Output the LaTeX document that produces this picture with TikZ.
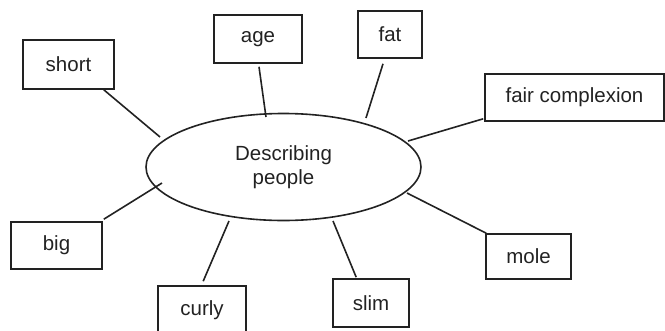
\documentclass[tikz,border=0pt]{standalone}
\usepackage{fontspec}
\setmainfont{Liberation Sans}
\usetikzlibrary{shapes.geometric,calc}
\definecolor{ink}{HTML}{222222}
\begin{document}
\begin{tikzpicture}[x=1pt,y=-1pt,
  every node/.style={font=\fontsize{20.5}{23.5}\selectfont, text=ink},
  wordbox/.style={draw=ink, line width=1.6pt, rectangle, inner sep=0pt},
  hub/.style={draw=ink, line width=1.6pt, ellipse, inner sep=0pt, minimum width=275pt, minimum height=107pt, align=center},
  link/.style={draw=ink, line width=1.6pt}]
\useasboundingbox (0,0) rectangle (665,330);
\node[hub] (ell) at (283.5,167) {Describing\\people};
\node[wordbox, minimum width=91pt, minimum height=49pt] (short) at (68.5,64.5) {short};
\node[wordbox, minimum width=88pt, minimum height=48pt] (age) at (258,39) {age};
\node[wordbox, minimum width=64pt, minimum height=47pt] (fat) at (390,34.5) {fat};
\node[wordbox, minimum width=179pt, minimum height=47pt] (fair) at (574.5,97.5) {fair complexion};
\node[wordbox, minimum width=85pt, minimum height=45pt] (mole) at (528.5,256.5) {mole};
\node[wordbox, minimum width=76pt, minimum height=48pt] (slim) at (371,303) {slim};
\node[wordbox, minimum width=88pt, minimum height=48pt] (curly) at (202,310) {curly};
\node[wordbox, minimum width=91pt, minimum height=47pt] (big) at (56.5,245.5) {big};
\draw[link] ($(short.south east)+(-11,0)$) -- ($(ell.center)+(-123.5,-30)$);
\draw[link] ($(age.south)+(1,3)$) -- ($(ell.center)+(-17.5,-50)$);
\draw[link] ($(fat.south)+(-7,5)$) -- ($(ell.center)+(82.5,-49)$);
\draw[link] ($(fair.south west)+(-1,-3)$) -- ($(ell.center)+(124.5,-26)$);
\draw[link] ($(mole.north west)+(1,0)$) -- ($(ell.center)+(123.5,26)$);
\draw[link] ($(slim.north west)+(24,-1)$) -- ($(ell.center)+(49.5,54)$);
\draw[link] ($(curly.north west)+(46,-4)$) -- ($(ell.center)+(-54.5,54)$);
\draw[link] ($(big.north east)+(1,-2)$) -- ($(ell.center)+(-121.5,16)$);
\end{tikzpicture}
\end{document}
